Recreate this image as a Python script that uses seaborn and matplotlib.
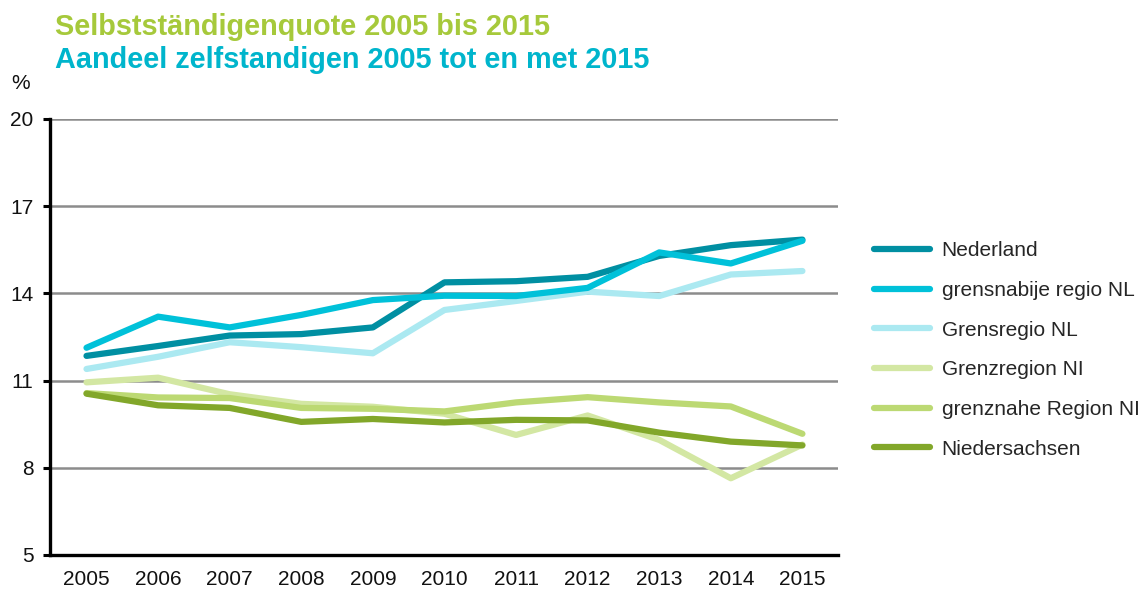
import matplotlib
matplotlib.use("Agg")
import matplotlib.pyplot as plt
import seaborn as sns
import pandas as pd

years = [2005, 2006, 2007, 2008, 2009, 2010, 2011, 2012, 2013, 2014, 2015]

nederland = [11.85, 12.19, 12.55, 12.60, 12.83, 14.38, 14.42, 14.57, 15.29, 15.66, 15.85]
grensnabije_regio_nl = [12.13, 13.20, 12.83, 13.26, 13.77, 13.92, 13.91, 14.19, 15.41, 15.03, 15.81]
grensregio_nl = [11.40, 11.82, 12.32, 12.15, 11.94, 13.43, 13.74, 14.06, 13.91, 14.65, 14.77]
grenzregion_ni = [10.94, 11.10, 10.53, 10.20, 10.10, 9.86, 9.13, 9.80, 8.96, 7.64, 8.80]
grenznahe_region_ni = [10.57, 10.42, 10.40, 10.06, 10.03, 9.94, 10.25, 10.43, 10.25, 10.11, 9.17]
niedersachsen = [10.55, 10.15, 10.06, 9.58, 9.68, 9.56, 9.65, 9.63, 9.21, 8.90, 8.77]

series_names = ["Nederland", "grensnabije regio NL", "Grensregio NL",
                "Grenzregion NI", "grenznahe Region NI", "Niedersachsen"]
series_values = [nederland, grensnabije_regio_nl, grensregio_nl,
                 grenzregion_ni, grenznahe_region_ni, niedersachsen]
colors = ["#008fa2", "#00c1d9", "#abe9f1", "#d3e7a3", "#bcd973", "#82a72a"]

y_ticks = [5, 8, 11, 14, 17, 20]

df = pd.concat(
    [pd.DataFrame({"Jahr": years, "Wert": vals, "Reihe": name})
     for name, vals in zip(series_names, series_values)],
    ignore_index=True,
)

sns.set_style("white")
plt.rcParams["font.family"] = ["Liberation Sans", "DejaVu Sans"]

fig = plt.figure(figsize=(11.46, 5.89), dpi=100)
ax = fig.add_axes([50 / 1146, 1 - 555 / 589, (837.5 - 50) / 1146, (555 - 119) / 589])

# drawing order: light lines below, darker ones on top
draw_order = ["Grensregio NL", "Grenzregion NI", "grenznahe Region NI",
              "Nederland", "grensnabije regio NL", "Niedersachsen"]
palette = dict(zip(series_names, colors))
for z, name in enumerate(draw_order):
    sns.lineplot(data=df[df["Reihe"] == name], x="Jahr", y="Wert",
                 color=palette[name], linewidth=4.5, ax=ax, zorder=3 + z,
                 solid_capstyle="round", solid_joinstyle="round", legend=False)

ax.set_xlim(2004.49, 2015.49)
ax.set_ylim(5, 20)
ax.set_yticks(y_ticks)
ax.set_xticks(years)
ax.set_xticklabels([str(y) for y in years])
ax.set_xlabel("")
ax.set_ylabel("")
ax.yaxis.grid(True, color="#8c8c8c", linewidth=1.8)
ax.xaxis.grid(False)
ax.set_axisbelow(True)

for side in ["top", "right"]:
    ax.spines[side].set_visible(False)
for side in ["left", "bottom"]:
    ax.spines[side].set_color("black")
    ax.spines[side].set_linewidth(2.4)

ax.tick_params(axis="y", which="major", left=True, length=5, width=2.2,
               color="black", pad=7, labelsize=15, labelcolor="#111111")
ax.tick_params(axis="x", which="major", bottom=False, length=0, pad=11,
               labelsize=15, labelcolor="#111111")

# legend
handles = [plt.Line2D([], [], color=palette[n], linewidth=4.5,
                      solid_capstyle="round") for n in series_names]
fig.legend(handles, series_names, loc="center left",
           bbox_to_anchor=(874 / 1146, 1 - 350 / 589), frameon=False,
           fontsize=15, handlelength=2.7, handletextpad=0.55,
           labelspacing=0.99, borderpad=0, borderaxespad=0)

# titles and unit
fig.text(55 / 1146, 1 - 35 / 589, "Selbstständigenquote 2005 bis 2015",
         color="#a6c93b", fontsize=20.8, fontweight="bold", va="baseline", ha="left")
fig.text(55 / 1146, 1 - 68.5 / 589, "Aandeel zelfstandigen 2005 tot en met 2015",
         color="#00b5cc", fontsize=20.8, fontweight="bold", va="baseline", ha="left")
fig.text(21 / 1146, 1 - 89 / 589, "%", fontsize=15, color="#111111",
         va="baseline", ha="center")

fig.savefig("out.png", dpi=100)
